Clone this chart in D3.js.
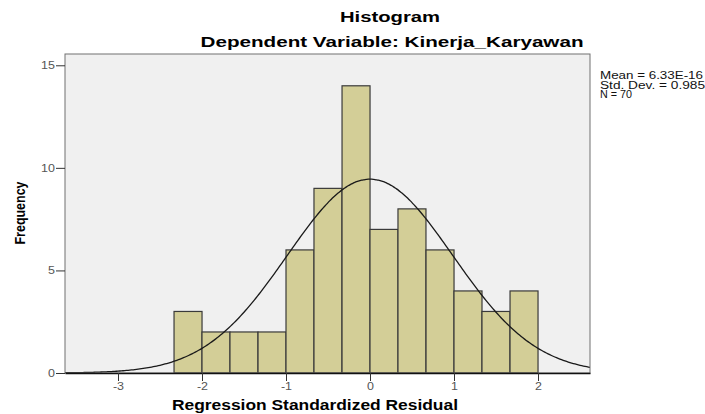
<!DOCTYPE html>
<html>
<head>
<meta charset="utf-8">
<script src="https://cdn.jsdelivr.net/npm/d3@7"></script>
<style>
  body { margin: 0; background: #fff; }
  svg text { font-family: "Liberation Sans", Arial, sans-serif; }
</style>
</head>
<body>
<div id="chart"></div>
<script>
// histogram bins (lower edge of each bin, width 1/3) and counts
const binLow = [-2.333, -2.0, -1.667, -1.333, -1.0, -0.667, -0.333, 0.0, 0.333, 0.667, 1.0, 1.333, 1.667];
const binWidth = 0.3333;
const counts = [3, 2, 2, 2, 6, 9, 14, 7, 8, 6, 4, 3, 4];

const xTicks = [-3, -2, -1, 0, 1, 2];
const yTicks = [0, 5, 10, 15];

// summary stats for the normal curve
const statMean = 6.33e-16;
const statSd = 0.985;
const statN = 70;
const legendLines = ["Mean = 6.33E-16", "Std. Dev. = 0.985", "N = 70"];

const width = 705, height = 414;
const plot = {left: 65, right: 590, top: 54, bottom: 373};

const svg = d3.select("#chart").append("svg")
    .attr("width", width)
    .attr("height", height);

svg.append("rect").attr("width", width).attr("height", height).attr("fill", "#fff");

const x = d3.scaleLinear().domain([-3.631, 2.619]).range([plot.left, plot.right]);
const y = d3.scaleLinear().domain([0, 15.55]).range([plot.bottom, plot.top]);

// plot background
svg.append("rect")
    .attr("x", plot.left).attr("y", plot.top)
    .attr("width", plot.right - plot.left).attr("height", plot.bottom - plot.top)
    .attr("fill", "#f0f0f0");

svg.append("clipPath").attr("id", "clip")
  .append("rect")
    .attr("x", plot.left).attr("y", plot.top)
    .attr("width", plot.right - plot.left).attr("height", plot.bottom - plot.top);

// bars
svg.append("g")
  .selectAll("rect")
  .data(binLow.map((b, i) => ({x0: b, x1: b + binWidth, n: counts[i]})))
  .join("rect")
    .attr("x", d => x(d.x0))
    .attr("y", d => y(d.n))
    .attr("width", d => x(d.x1) - x(d.x0))
    .attr("height", d => y(0) - y(d.n))
    .attr("fill", "#d3ce97")
    .attr("stroke", "#3a3a3a")
    .attr("stroke-width", 1.2);

// normal curve
const peak = statN * binWidth / (statSd * Math.sqrt(2 * Math.PI));
const curvePts = d3.range(-3.7, 2.7, 0.02).map(v => [v, peak * Math.exp(-0.5 * ((v - statMean) / statSd) ** 2)]);
svg.append("path")
    .datum(curvePts)
    .attr("clip-path", "url(#clip)")
    .attr("fill", "none")
    .attr("stroke", "#1a1a1a")
    .attr("stroke-width", 1.3)
    .attr("d", d3.line().x(d => x(d[0])).y(d => y(d[1])).curve(d3.curveBasis));

// frame
svg.append("rect")
    .attr("x", plot.left).attr("y", plot.top)
    .attr("width", plot.right - plot.left).attr("height", plot.bottom - plot.top)
    .attr("fill", "none")
    .attr("stroke", "#707070")
    .attr("stroke-width", 1);

// x axis
const gx = svg.append("g")
    .attr("transform", `translate(0,${plot.bottom})`)
    .call(d3.axisBottom(x).tickValues(xTicks).tickSize(8).tickSizeOuter(0).tickPadding(2).tickFormat(d => String(d)));
gx.select(".domain").attr("stroke", "#111").attr("stroke-width", 1.3);
gx.selectAll(".tick line").attr("stroke", "#333");
gx.selectAll(".tick text")
    .attr("fill", "#555").attr("font-size", 10)
    .attr("transform", "scale(1.25,1)");

// y axis
const gy = svg.append("g")
    .attr("transform", `translate(${plot.left},0)`)
    .call(d3.axisLeft(y).tickValues(yTicks).tickSize(9).tickPadding(0).tickFormat(d => String(d)));
gy.select(".domain").remove();
gy.selectAll(".tick line").attr("stroke", "#333");
gy.selectAll(".tick text")
    .attr("fill", "#555").attr("font-size", 10)
    .attr("x", 0)
    .attr("transform", "translate(-10,0) scale(1.25,1)");

// titles
svg.append("text")
    .attr("x", 390).attr("y", 22)
    .attr("text-anchor", "middle")
    .attr("font-weight", "bold").attr("font-size", 14)
    .attr("textLength", 100).attr("lengthAdjust", "spacingAndGlyphs")
    .text("Histogram");

svg.append("text")
    .attr("x", 392).attr("y", 47)
    .attr("text-anchor", "middle")
    .attr("font-weight", "bold").attr("font-size", 14)
    .attr("textLength", 383).attr("lengthAdjust", "spacingAndGlyphs")
    .text("Dependent Variable: Kinerja_Karyawan");

svg.append("text")
    .attr("x", 315).attr("y", 410)
    .attr("text-anchor", "middle")
    .attr("font-weight", "bold").attr("font-size", 14)
    .attr("textLength", 286).attr("lengthAdjust", "spacingAndGlyphs")
    .text("Regression Standardized Residual");

svg.append("text")
    .attr("transform", "translate(25,213) rotate(-90)")
    .attr("text-anchor", "middle")
    .attr("font-weight", "bold").attr("font-size", 14)
    .attr("textLength", 63).attr("lengthAdjust", "spacingAndGlyphs")
    .text("Frequency");

// stats legend
const legendLen = [103, 105, 32];
svg.append("g")
  .selectAll("text")
  .data(legendLines)
  .join("text")
    .attr("x", 600)
    .attr("y", (d, i) => 79 + i * 9.5)
    .attr("font-size", 10)
    .attr("fill", "#111")
    .attr("textLength", (d, i) => legendLen[i]).attr("lengthAdjust", "spacingAndGlyphs")
    .text(d => d);
</script>
</body>
</html>
